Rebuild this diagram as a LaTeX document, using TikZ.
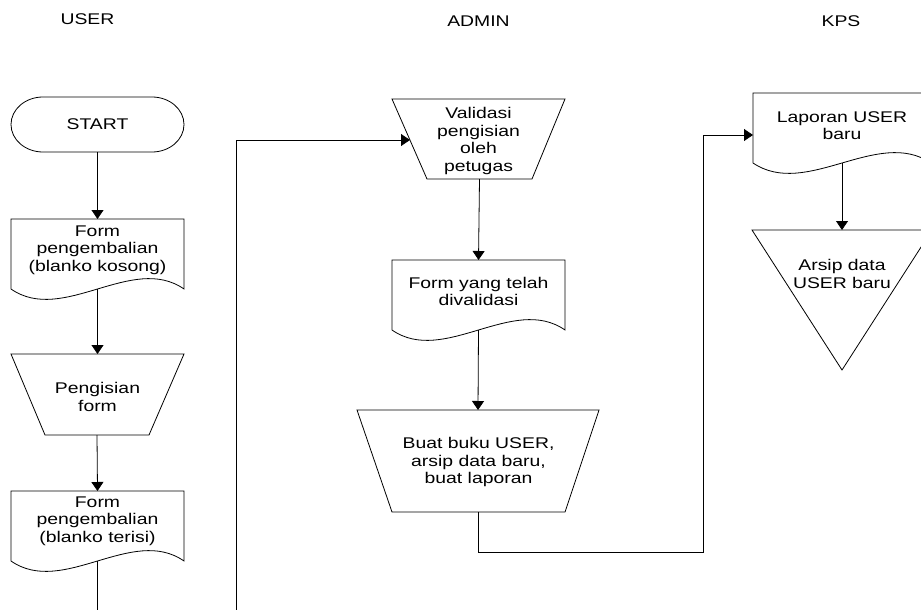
\documentclass[tikz,border=0pt]{standalone}
\usepackage{fontspec}
\setmainfont{Liberation Sans}[FakeStretch=1.25]
\usetikzlibrary{arrows.meta}

% Document symbol with a wavy bottom: name, left x, top y, width
\newcommand\FlowDoc[4]{%
  \draw (#2,#3+70) -- (#2,#3) -- (#2+#4,#3) -- (#2+#4,#3+70)
    .. controls (#2+0.7*#4,#3+34) and (#2+0.3*#4,#3+106) .. (#2,#3+70) -- cycle;
  \coordinate (#1-n) at (#2+0.5*#4,#3);
  \coordinate (#1-s) at (#2+0.5*#4,#3+70);
}
% Manual operation (trapezium): name, top y, top left, top right, bottom y, bottom left, bottom right
\newcommand\FlowTrap[7]{%
  \draw (#3,#2) -- (#4,#2) -- (#7,#5) -- (#6,#5) -- cycle;
  \coordinate (#1-n) at ({(#3+#4)/2},#2);
  \coordinate (#1-s) at ({(#6+#7)/2},#5);
}

\tikzset{
  lbl/.style={align=center, inner sep=0pt,
    font=\fontsize{15.5}{17.5}\selectfont},
  flowarrow/.style={-{Triangle[width=12pt,length=9pt]}},
}

\begin{document}
\begin{tikzpicture}[x=1pt,y=-1pt,line width=0.8pt]
\useasboundingbox (0,0) rectangle (921,610);
\clip (0,0) rectangle (921,610);

% lane titles
\node[lbl,anchor=base] (hUser)  at (87.5,25) {USER};
\node[lbl,anchor=base] (hAdmin) at (478.5,27) {ADMIN};
\node[lbl,anchor=base] (hKps)   at (841,27) {KPS};

% USER lane
\draw (43,97) -- (152,97)
  arc[start angle=90,end angle=-90,x radius=32pt,y radius=27.5pt]
  -- (43,152)
  arc[start angle=270,end angle=90,x radius=32pt,y radius=27.5pt] -- cycle;
\node[lbl,anchor=base] (start) at (97.5,129) {START};
\coordinate (start-s) at (97.5,152);

\FlowDoc{doc1}{11}{219}{173}
\node[lbl] (doc1txt) at (97.5,250) {Form\\pengembalian\\(blanko kosong)};

\FlowTrap{trap1}{354}{11}{184}{435}{45}{149}
\node[lbl] (trap1txt) at (97.5,397) {Pengisian\\form};

\FlowDoc{doc2}{11}{491}{173}
\node[lbl] (doc2txt) at (97.5,521) {Form\\pengembalian\\(blanko terisi)};

\coordinate (userOut) at (97.5,615);
\coordinate (adminIn) at (236.7,615);

% ADMIN lane
\FlowTrap{valid}{99}{392}{565}{179}{427}{532}
\node[lbl] (validtxt) at (478.5,141) {Validasi\\pengisian\\oleh\\petugas};
\coordinate (valid-w) at (410,140);

\FlowDoc{doc3}{392}{260}{173}
\node[lbl] (doc3txt) at (478.5,291.5) {Form yang telah\\divalidasi};

\FlowTrap{trap2}{410}{357}{599}{512}{392}{565}
\node[lbl] (trap2txt) at (478.5,462) {Buat buku USER,\\arsip data baru,\\buat laporan};
\coordinate (bend) at (703,552);

% KPS lane
\FlowDoc{lap}{753}{93}{178}
\node[lbl] (laptxt) at (842,125.5) {Laporan USER\\baru};
\coordinate (lap-w) at (753,135);

\draw (752,230) -- (932,230) -- (842,370) -- cycle;
\coordinate (arsip-n) at (842,230);
\node[lbl] (arsiptxt) at (842,274) {Arsip data\\USER baru};

% connectors
\draw[flowarrow] (start-s) -- (doc1-n);
\draw[flowarrow] (doc1-s) -- (trap1-n);
\draw[flowarrow] (trap1-s) -- (doc2-n);
\draw (doc2-s) -- (userOut);
\draw[flowarrow] (adminIn) |- (valid-w);
\draw[flowarrow] (valid-s) -- (doc3-n);
\draw[flowarrow] (doc3-s) -- (trap2-n);
\draw[flowarrow] (trap2-s) |- (bend) |- (lap-w);
\draw[flowarrow] (lap-s) -- (arsip-n);
\end{tikzpicture}
\end{document}
